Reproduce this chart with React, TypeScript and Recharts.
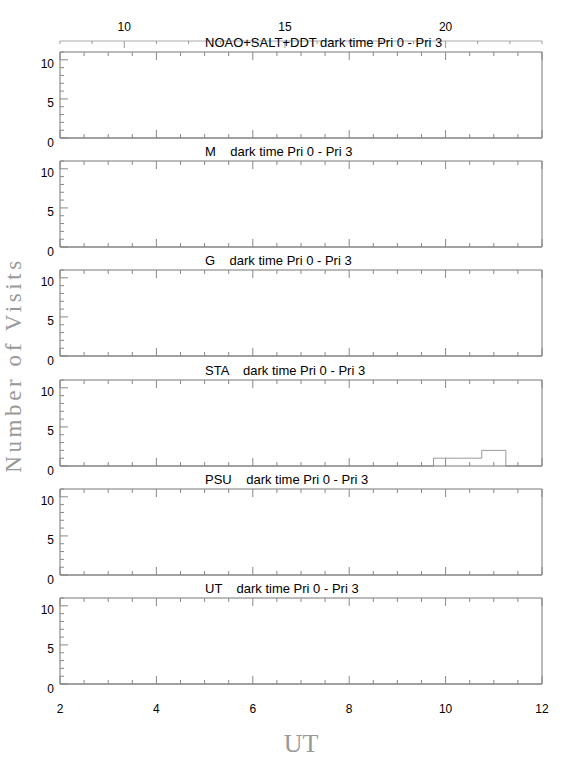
import { ComposedChart, Line, XAxis, YAxis } from 'recharts';

const panelNames = ['NOAO+SALT+DDT', 'M', 'G', 'STA', 'PSU', 'UT'];
const titleSuffix = 'dark time Pri 0 - Pri 3';

const xTicks = [2, 2.5, 3, 3.5, 4, 4.5, 5, 5.5, 6, 6.5, 7, 7.5, 8, 8.5, 9, 9.5, 10, 10.5, 11, 11.5, 12];
const xLabels = [2, 4, 6, 8, 10, 12];
const yTicks = [0, 1, 2, 3, 4, 5, 6, 7, 8, 9, 10, 11];
const yLabels = [0, 5, 10];
const hourTicks = [8, 9, 10, 11, 12, 13, 14, 15, 16, 17, 18, 19, 20, 21, 22, 23];
const hourLabels = [10, 15, 20];

// histogram bins (UT centres, width 0.5)
const binCenters = [2, 2.5, 3, 3.5, 4, 4.5, 5, 5.5, 6, 6.5, 7, 7.5, 8, 8.5, 9, 9.5, 10, 10.5, 11, 11.5, 12];
const emptyCounts = [0, 0, 0, 0, 0, 0, 0, 0, 0, 0, 0, 0, 0, 0, 0, 0, 0, 0, 0, 0, 0];
const staCounts = [0, 0, 0, 0, 0, 0, 0, 0, 0, 0, 0, 0, 0, 0, 0, 0, 1, 1, 2, 0, 0];
const panelCounts = [emptyCounts, emptyCounts, emptyCounts, staCounts, emptyCounts, emptyCounts];

const panelTops = [52, 161, 270, 380, 489, 598];
const PANEL_H = 86;
const PAD = 12;

const FRAME = '#777';
const TICK = '#888';
const SANS = '"Liberation Sans", Arial, Helvetica, sans-serif';
const SERIF = '"Liberation Serif", "Times New Roman", serif';

function BottomTick(props: any) {
  const { x, y, payload, showLabel } = props;
  const major = xLabels.includes(payload.value);
  return (
    <g>
      <line x1={x} x2={x} y1={y} y2={y - (major ? 8 : 4)} stroke={TICK} />
      {showLabel && major && (
        <text x={x} y={y + 29} textAnchor="middle" fontSize={12} fontFamily={SANS} fill="#000">
          {payload.value}
        </text>
      )}
    </g>
  );
}

function TopTick(props: any) {
  const { x, y, payload } = props;
  const major = xLabels.includes(payload.value);
  return <line x1={x} x2={x} y1={y} y2={y + (major ? 8 : 4)} stroke={TICK} />;
}

function LeftTick(props: any) {
  const { x, y, payload } = props;
  const major = yLabels.includes(payload.value);
  return (
    <g>
      <line x1={x} x2={x + (major ? 8 : 4)} y1={y} y2={y} stroke={TICK} />
      {major && (
        <text x={x - 6} y={y + 8.5} textAnchor="end" fontSize={12} fontFamily={SANS} fill="#000">
          {payload.value}
        </text>
      )}
    </g>
  );
}

function RightTick(props: any) {
  const { x, y, payload } = props;
  const major = yLabels.includes(payload.value);
  return <line x1={x} x2={x - (major ? 9 : 5)} y1={y} y2={y} stroke={TICK} />;
}

function HourTick(props: any) {
  const { x, y, payload } = props;
  const major = hourLabels.includes(payload.value);
  return (
    <g>
      <line x1={x} x2={x} y1={y} y2={y + (major ? 7 : 3)} stroke="#999" />
      {major && (
        <text x={x} y={y - 10} textAnchor="middle" fontSize={12} fontFamily={SANS} fill="#000">
          {payload.value}
        </text>
      )}
    </g>
  );
}

function Panel({ index }: { index: number }) {
  const last = index === panelNames.length - 1;
  const data = binCenters.map((x, i) => ({ x, n: panelCounts[index][i] }));
  const bottomPad = last ? 40 : PAD;
  return (
    <div style={{ position: 'absolute', left: 0, top: panelTops[index] - PAD }}>
      <ComposedChart
        width={572}
        height={PANEL_H + PAD + bottomPad}
        data={data}
        margin={{ top: PAD - 1, right: 29, bottom: bottomPad - 1, left: 59 }}
      >
        <XAxis
          dataKey="x"
          type="number"
          domain={[2, 12]}
          ticks={xTicks}
          interval={0}
          height={1}
          tickSize={0}
          tickMargin={0}
          tickLine={false}
          axisLine={{ stroke: FRAME }}
          tick={(p: any) => <BottomTick {...p} showLabel={last} />}
        />
        <XAxis
          xAxisId="top"
          dataKey="x"
          type="number"
          orientation="top"
          domain={[2, 12]}
          ticks={xTicks}
          interval={0}
          height={1}
          tickSize={0}
          tickMargin={0}
          tickLine={false}
          axisLine={{ stroke: FRAME }}
          tick={(p: any) => <TopTick {...p} />}
        />
        <YAxis
          type="number"
          domain={[0, 11]}
          ticks={yTicks}
          interval={0}
          width={1}
          tickSize={0}
          tickMargin={0}
          tickLine={false}
          axisLine={{ stroke: FRAME }}
          tick={(p: any) => <LeftTick {...p} />}
        />
        <YAxis
          yAxisId="right"
          orientation="right"
          type="number"
          domain={[0, 11]}
          ticks={yTicks}
          interval={0}
          width={1}
          tickSize={0}
          tickMargin={0}
          tickLine={false}
          axisLine={{ stroke: FRAME }}
          tick={(p: any) => <RightTick {...p} />}
        />
        <Line
          dataKey="n"
          type="step"
          stroke="#999"
          strokeWidth={1}
          dot={false}
          activeDot={false}
          isAnimationActive={false}
        />
      </ComposedChart>
    </div>
  );
}

function HourAxis() {
  const data = hourTicks.map((h) => ({ h }));
  return (
    <div style={{ position: 'absolute', left: 0, top: 0 }}>
      <ComposedChart width={572} height={52} data={data} margin={{ top: 40, right: 30, bottom: 0, left: 60 }}>
        <XAxis
          dataKey="h"
          type="number"
          orientation="top"
          domain={[8, 23]}
          ticks={hourTicks}
          interval={0}
          height={1}
          tickSize={0}
          tickMargin={0}
          tickLine={false}
          axisLine={{ stroke: '#aaa' }}
          tick={(p: any) => <HourTick {...p} />}
        />
        <YAxis hide domain={[0, 1]} />
      </ComposedChart>
    </div>
  );
}

export default function App() {
  return (
    <div style={{ position: 'absolute', left: 0, top: 0, width: 572, height: 762, background: '#fff' }}>
      <HourAxis />
      {panelNames.map((_, i) => (
        <Panel key={i} index={i} />
      ))}
      <svg width={572} height={762} style={{ position: 'absolute', left: 0, top: 0, pointerEvents: 'none' }}>
        {panelNames.map((name, i) => (
          <text
            key={name}
            x={205}
            y={panelTops[i] - 5}
            fontSize={13}
            fontFamily={SANS}
            fill="#000"
            style={{ whiteSpace: 'pre' }}
          >
            {i === 0 ? `${name} ${titleSuffix}` : `${name}    ${titleSuffix}`}
          </text>
        ))}
        <text
          transform="translate(21, 365) rotate(-90)"
          textAnchor="middle"
          fontSize={23}
          fontFamily={SERIF}
          letterSpacing={3.6}
          fill="#999"
        >
          Number of Visits
        </text>
        <text x={301} y={752} textAnchor="middle" fontSize={26} fontFamily={SERIF} fill="#999">
          UT
        </text>
      </svg>
    </div>
  );
}
